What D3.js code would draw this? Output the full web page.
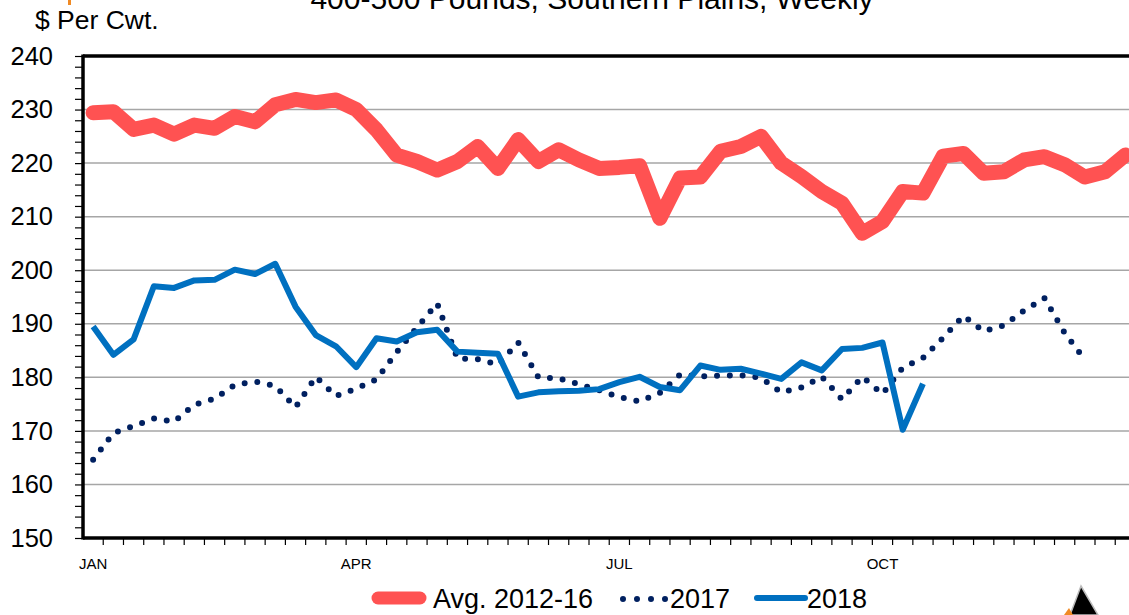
<!DOCTYPE html>
<html>
<head>
<meta charset="utf-8">
<script src="https://cdn.jsdelivr.net/npm/d3@7"></script>
<style>
  html, body { margin: 0; padding: 0; background: #fff; overflow: hidden; }
  svg { display: block; font-family: "Liberation Sans", Arial, sans-serif; }
</style>
</head>
<body>
<svg id="chart" width="1129" height="615"></svg>
<script>
// weekly prices, $ per cwt (week 1 .. 52)
var avg1216 = [229.4, 229.6, 226.3, 227.1, 225.4, 227.1, 226.5, 228.7, 227.7, 230.9,
               231.9, 231.3, 231.8, 230.0, 226.2, 221.5, 220.3, 218.7, 220.3, 223.1,
               219.0, 224.4, 220.3, 222.5, 220.6, 219.0, 219.2, 219.5, 209.7, 217.2,
               217.4, 222.2, 223.1, 225.0, 220.0, 217.5, 214.7, 212.5, 206.9, 209.1,
               214.7, 214.4, 221.3, 221.8, 218.1, 218.4, 220.6, 221.2, 219.7, 217.4,
               218.4, 221.5];
var y2017 = [164.6, 169.6, 170.9, 172.3, 171.7, 174.9, 176.0, 178.6, 179.2, 178.4,
             174.4, 180.1, 176.5, 177.9, 179.6, 184.7, 189.3, 193.8, 183.5, 183.4,
             182.4, 186.5, 180.0, 179.8, 178.7, 177.6, 176.3, 175.5, 177.1, 180.5,
             180.2, 180.3, 180.4, 179.9, 177.2, 178.1, 180.1, 175.9, 180.1, 176.9,
             181.8, 183.6, 187.4, 191.5, 188.6, 189.7, 192.5, 194.8, 188.3, 183.3];
var y2018 = [189.5, 184.2, 187.1, 197.0, 196.7, 198.1, 198.2, 200.1, 199.3, 201.2,
             193.2, 187.9, 185.8, 181.9, 187.3, 186.7, 188.4, 188.9, 184.8, 184.6,
             184.4, 176.4, 177.2, 177.4, 177.5, 177.8, 179.1, 180.1, 178.2, 177.6,
             182.2, 181.4, 181.6, 180.7, 179.7, 182.8, 181.3, 185.3, 185.5, 186.5,
             170.2, 178.8];
var monthLabels = ["JAN", "APR", "JUL", "OCT"];
var monthWeeks = [0, 13, 26, 39];
var yTicks = [150, 160, 170, 180, 190, 200, 210, 220, 230, 240];
var titleText = "400-500 Pounds, Southern Plains, Weekly";
var unitText = "$ Per Cwt.";

var svg = d3.select("#chart");
var plotLeft = 83, plotTop = 56, plotBottom = 538, catW = 20.24, nWeeks = 52;

var x = d3.scaleBand().domain(d3.range(nWeeks)).range([plotLeft, plotLeft + nWeeks * catW]).padding(0);
var y = d3.scaleLinear().domain([150, 240]).range([plotBottom, plotTop]);
var cx = function(i) { return x(i) + x.bandwidth() / 2; };

// title (cut off at top) and unit label
svg.append("text").attr("x", 592).attr("y", 9).attr("text-anchor", "middle")
   .attr("font-size", 30).attr("fill", "#000").text(titleText);
svg.append("rect").attr("x", 68).attr("y", 0).attr("width", 3).attr("height", 5).attr("fill", "#f08a24");
svg.append("text").attr("x", 35).attr("y", 29).attr("font-size", 26.5).attr("fill", "#000").text(unitText);

// gridlines
svg.append("g").selectAll("line").data(yTicks.filter(function(d) { return d > 150 && d < 240; }))
   .enter().append("line")
   .attr("x1", plotLeft).attr("x2", 1129)
   .attr("y1", function(d) { return y(d); }).attr("y2", function(d) { return y(d); })
   .attr("stroke", "#a6a6a6").attr("stroke-width", 1.5);

// y axis with minor ticks every 2
var yAxis = d3.axisLeft(y).tickValues(d3.range(150, 241, 2)).tickSize(8)
   .tickFormat(function(d) { return d % 10 === 0 ? d : ""; });
var gy = svg.append("g").attr("transform", "translate(" + plotLeft + ",0)").call(yAxis);
gy.select(".domain").remove();
gy.selectAll(".tick line").attr("stroke", "#000").attr("stroke-width", 1.2);
gy.selectAll(".tick text").attr("x", -30).attr("font-size", 25.5).attr("fill", "#000")
   .attr("font-family", "Liberation Sans, Arial, sans-serif");

// x axis ticks at week boundaries
var xTicks = d3.range(1, nWeeks + 1);
svg.append("g").selectAll("line").data(xTicks).enter().append("line")
   .attr("x1", function(d) { return plotLeft + d * x.step(); })
   .attr("x2", function(d) { return plotLeft + d * x.step(); })
   .attr("y1", plotBottom).attr("y2", plotBottom + 7)
   .attr("stroke", "#000").attr("stroke-width", 1.2);
svg.append("g").selectAll("text").data(monthWeeks).enter().append("text")
   .attr("x", function(d) { return cx(d); }).attr("y", 569)
   .attr("text-anchor", "middle").attr("font-size", 15).attr("fill", "#000")
   .text(function(d, i) { return monthLabels[i]; });

// plot border
svg.append("line").attr("x1", plotLeft).attr("x2", 1129).attr("y1", plotTop).attr("y2", plotTop)
   .attr("stroke", "#000").attr("stroke-width", 3.5);
svg.append("line").attr("x1", plotLeft).attr("x2", 1129).attr("y1", plotBottom).attr("y2", plotBottom)
   .attr("stroke", "#000").attr("stroke-width", 3.5);
svg.append("line").attr("x1", plotLeft).attr("x2", plotLeft).attr("y1", plotTop - 1.5).attr("y2", plotBottom + 1.5)
   .attr("stroke", "#000").attr("stroke-width", 3.5);

var line = d3.line().x(function(d, i) { return cx(i); }).y(function(d) { return y(d); });

svg.append("path").datum(avg1216).attr("d", line).attr("fill", "none")
   .attr("stroke", "#ff5252").attr("stroke-width", 15)
   .attr("stroke-linejoin", "round").attr("stroke-linecap", "round");
svg.append("path").datum(y2017).attr("d", line).attr("fill", "none")
   .attr("stroke", "#002060").attr("stroke-width", 6)
   .attr("stroke-dasharray", "0,12.8").attr("stroke-linecap", "round");
svg.append("path").datum(y2018).attr("d", line).attr("fill", "none")
   .attr("stroke", "#0070c0").attr("stroke-width", 6)
   .attr("stroke-linejoin", "round");

// legend
var lg = svg.append("g");
lg.append("line").attr("x1", 378).attr("x2", 420).attr("y1", 598).attr("y2", 598)
  .attr("stroke", "#ff5252").attr("stroke-width", 13).attr("stroke-linecap", "round");
lg.append("text").attr("x", 433).attr("y", 608).attr("font-size", 27).text("Avg. 2012-16");
lg.append("line").attr("x1", 623).attr("x2", 666.5).attr("y1", 599).attr("y2", 599)
  .attr("stroke", "#002060").attr("stroke-width", 6)
  .attr("stroke-dasharray", "0,14").attr("stroke-linecap", "round");
lg.append("text").attr("x", 670).attr("y", 608).attr("font-size", 27).text("2017");
lg.append("line").attr("x1", 757).attr("x2", 805).attr("y1", 598).attr("y2", 598)
  .attr("stroke", "#0070c0").attr("stroke-width", 6).attr("stroke-linecap", "round");
lg.append("text").attr("x", 807).attr("y", 608).attr("font-size", 27).text("2018");

// logo fragment bottom right
svg.append("path").attr("d", "M1081,586 L1098,615 L1070,615 Z").attr("fill", "#000")
   .attr("stroke", "#bbb").attr("stroke-width", 1.5);
svg.append("path").attr("d", "M1064,615 L1069,608 L1073,615 Z").attr("fill", "#f08a24");
</script>
</body>
</html>
